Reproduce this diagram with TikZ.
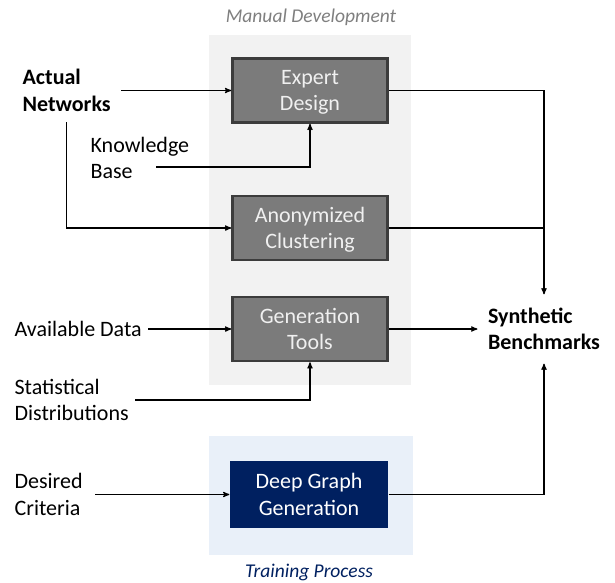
\documentclass[tikz,border=0pt]{standalone}
\usepackage{fontspec}
\setmainfont{Carlito}
\usetikzlibrary{arrows,positioning,backgrounds}
\definecolor{boxgray}{HTML}{7B7B7B}
\definecolor{boxedge}{HTML}{3C3C3C}
\definecolor{panelgray}{HTML}{F2F2F2}
\definecolor{panelblue}{HTML}{E9F0F9}
\definecolor{navyblue}{HTML}{002060}
\definecolor{titlegray}{HTML}{7F7F7F}

\begin{document}
\begin{tikzpicture}[x=1pt,y=-1pt,line width=1.2pt,>=stealth',
  font=\fontsize{22}{26.5}\selectfont,
  toolbox/.style={draw=boxedge,line width=2.6pt,fill=boxgray,text=white!94!black,
    minimum width=155pt,minimum height=64pt,align=center,inner sep=0pt,text depth=0pt},
  deepbox/.style={fill=navyblue,text=white,minimum width=158pt,minimum height=67pt,
    align=center,inner sep=0pt,text depth=0pt},
  txt/.style={align=left,anchor=west,inner sep=6pt},
  title/.style={font=\fontsize{19.5}{22}\selectfont\itshape}]%,font=\sffamily]
\useasboundingbox (0,0) rectangle (615,582);
\fill[panelgray] (209,35) rectangle (411,385);
\fill[panelblue] (209,436) rectangle (413,555);
\node[title,text=titlegray] (manual) at (311,17) {Manual Development};
\node[title,text=navyblue] (training) at (309,572) {Training Process};

\node[toolbox] (expert) at (310,90.5) {Expert\\Design};
\node[toolbox] (anon) at (310,228) {Anonymized\\Clustering};
\node[toolbox] (gen) at (310,329) {Generation\\Tools};
\node[deepbox] (deep) at (309,494.5) {Deep Graph\\Generation};

\node[txt,inner sep=10pt,font=\fontsize{22}{26.5}\selectfont\bfseries] (actual) at (12,90.5) {Actual\\Networks};
\node[txt] (kb) at (84,158) {Knowledge\\Base};
\node[txt] (avail) at (8,329) {Available Data};
\node[txt] (stat) at (8,400) {Statistical\\Distributions};
\node[txt,inner xsep=12pt] (crit) at (2,494.5) {Desired\\Criteria};
\node[align=left,inner xsep=10pt,inner ysep=13pt,font=\fontsize{22}{26.5}\selectfont\bfseries] (synth) at (544,329) {Synthetic\\Benchmarks};
\coordinate (kbout) at (156,167);

\begin{scope}[->]
\draw (actual.east) -- (expert.west);
\draw (actual.south) |- (anon.west);
\draw (kbout) -| (expert.south);
\draw (avail.east) -- (gen.west);
\draw (stat.east) -| (gen.south);
\draw (crit.east) -- (deep.west);
\draw (expert.east) -| (synth.north);
\draw (gen.east) -- (synth.west);
\draw (deep.east) -| (synth.south);
\end{scope}
\draw (anon.east) -- (anon.east -| synth.north);
\end{tikzpicture}
\end{document}
